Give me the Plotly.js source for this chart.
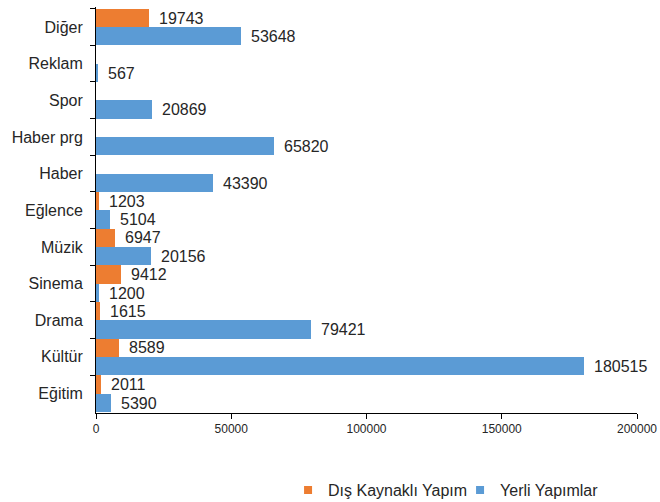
<!DOCTYPE html>
<html><head><meta charset="utf-8">
<script src="https://cdn.plot.ly/plotly-3.0.1.min.js"></script>
<style>body{margin:0;background:#fff}#c{width:660px;height:502px}</style>
</head><body><div id="c"></div>
<script>
var categories = ["Diğer","Reklam","Spor","Haber prg","Haber","Eğlence","Müzik","Sinema","Drama","Kültür","Eğitim"];
var disKaynakli = [19743, null, null, null, null, 1203, 6947, 9412, 1615, 8589, 2011];
var yerli = [53648, 567, 20869, 65820, 43390, 5104, 20156, 1200, 79421, 180515, 5390];
var seriesNames = ["Dış Kaynaklı Yapım", "Yerli Yapımlar"];
var xTicks = [0, 50000, 100000, 150000, 200000];

var orange = "#ED7D31", blue = "#5B9BD5";
var FONT = "Liberation Sans, Arial, sans-serif";
var traces = [
  {type:"bar", orientation:"h", name:seriesNames[0], y:categories, x:disKaynakli, marker:{color:orange}, showlegend:false, legendgroup:"a"},
  {type:"bar", orientation:"h", name:seriesNames[1], y:categories, x:yerli, marker:{color:blue}, showlegend:false, legendgroup:"b"},
  {type:"scatter", mode:"markers", name:seriesNames[0], x:[null], y:[null], marker:{symbol:"square", size:8, color:orange}, legendgroup:"a"},
  {type:"scatter", mode:"markers", name:seriesNames[1], x:[null], y:[null], marker:{symbol:"square", size:8, color:blue}, legendgroup:"b"}
];
var ann = [];
function addLabels(vals, shift){
  vals.forEach(function(v,i){
    if(v===null||v===undefined) return;
    ann.push({x:v, y:categories[i], xref:"x", yref:"y", text:String(v), showarrow:false,
      xanchor:"left", yanchor:"middle", xshift:8, yshift:shift,
      font:{family:FONT, size:16, color:"#262626"}});
  });
}
addLabels(disKaynakli, 9);
addLabels(yerli, -9.5);

var layout = {
  width:660, height:502,
  margin:{l:96, r:23, t:7, b:89, autoexpand:false},
  paper_bgcolor:"#fff", plot_bgcolor:"#fff",
  barmode:"group", bargap:0, bargroupgap:0,
  font:{family:FONT, color:"#262626"},
  xaxis:{range:[0,200000], tickvals:xTicks, ticktext:xTicks.map(String), showgrid:false, zeroline:false,
    showline:true, linecolor:"#000", linewidth:1, ticks:"outside", ticklen:5, tickcolor:"#000",
    tickfont:{size:12, color:"#262626"}, automargin:false},
  yaxis:{type:"category", autorange:"reversed", showgrid:false, zeroline:false,
    showline:true, linecolor:"#000", linewidth:1, ticks:"outside", ticklen:5, tickcolor:"#000",
    tickson:"boundaries", ticklabelstandoff:9, automargin:false,
    tickfont:{size:16, color:"#262626"}},
  showlegend:true,
  legend:{orientation:"h", x:0.355, xanchor:"left", y:-0.19, yanchor:"middle",
    font:{size:16, color:"#262626"}, itemwidth:30, entrywidth:127, traceorder:"normal"},
  annotations:ann
};
Plotly.newPlot("c", traces, layout, {displayModeBar:false, staticPlot:true});
</script>
</body></html>
